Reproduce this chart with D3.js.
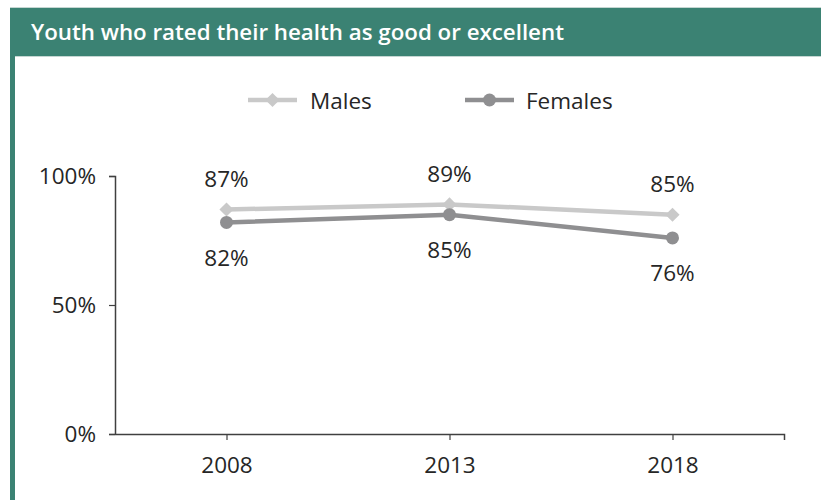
<!DOCTYPE html>
<html>
<head>
<meta charset="utf-8">
<script src="https://cdn.jsdelivr.net/npm/d3@7"></script>
<style>
html,body{margin:0;padding:0;background:#fff;}
svg{display:block;}
text{font-family:"Open Sans","Noto Sans",sans-serif;}
</style>
</head>
<body>
<svg id="chart" width="821" height="500"></svg>
<script>
const title = "Youth who rated their health as good or excellent";
const years = ["2008", "2013", "2018"];
const males = [87, 89, 85];
const females = [82, 85, 76];
const yTicks = [0, 50, 100];
const seriesNames = ["Males", "Females"];

const svg = d3.select("#chart");
const teal = "#3b8273";
const fs = 22.5;

// frame
svg.append("rect").attr("x", 10).attr("y", 7).attr("width", 811).attr("height", 1).attr("fill", "#c5d6d2");
svg.append("rect").attr("x", 10).attr("y", 8).attr("width", 811).attr("height", 48).attr("fill", teal);
svg.append("rect").attr("x", 15).attr("y", 56).attr("width", 806).attr("height", 1).attr("fill", "#c5d6d2");
svg.append("rect").attr("x", 10).attr("y", 56).attr("width", 5).attr("height", 444).attr("fill", teal);
svg.append("text").attr("x", 31).attr("y", 40)
  .attr("fill", "#fff").attr("font-size", 22.3).attr("font-weight", 600)
  .text(title);

const x = d3.scalePoint().domain(years).range([115, 784]).padding(0.5);
const y = d3.scaleLinear().domain([0, 100]).range([434, 176]);

const axisColor = "#404040";
// y axis
const yAxis = svg.append("g").attr("transform", "translate(115,0)")
  .call(d3.axisLeft(y).tickValues(yTicks).tickSize(6).tickPadding(13).tickFormat(d => d + "%"));
// x axis
const xAxis = svg.append("g").attr("transform", "translate(0,434)")
  .call(d3.axisBottom(x).tickSize(6).tickPadding(17));
[yAxis, xAxis].forEach(g => {
  g.select(".domain").attr("stroke", axisColor).attr("stroke-width", 1.5);
  g.selectAll(".tick line").attr("stroke", axisColor).attr("stroke-width", 1.2);
  g.selectAll(".tick text").attr("fill", "#262626").attr("font-size", fs)
    .attr("font-family", "'Open Sans','Noto Sans',sans-serif");
});
yAxis.select(".domain").attr("d", "M-6,176.5H0.5V434.5");
xAxis.select(".domain").attr("d", "M109,0.5H784.5V6");

const cMale = "#c9c9c9", cFemale = "#8f8f91";
const line = d3.line().x((d, i) => x(years[i])).y(d => y(d));

svg.append("path").datum(males).attr("d", line)
  .attr("fill", "none").attr("stroke", cMale).attr("stroke-width", 4.5);
svg.append("path").datum(females).attr("d", line)
  .attr("fill", "none").attr("stroke", cFemale).attr("stroke-width", 4.5);

const diamond = d3.symbol().type(d3.symbolSquare).size(100);
svg.selectAll(".mm").data(males).enter().append("path")
  .attr("d", diamond)
  .attr("transform", (d, i) => `translate(${x(years[i])},${y(d)}) rotate(45)`)
  .attr("fill", cMale);
svg.selectAll(".fm").data(females).enter().append("circle")
  .attr("cx", (d, i) => x(years[i])).attr("cy", d => y(d)).attr("r", 6.5)
  .attr("fill", cFemale);

// data labels
svg.selectAll(".ml").data(males).enter().append("text")
  .attr("x", (d, i) => x(years[i])).attr("y", d => y(d) - 31)
  .attr("text-anchor", "middle").attr("dominant-baseline", "central")
  .attr("font-size", fs).attr("fill", "#262626").text(d => d + "%");
svg.selectAll(".fl").data(females).enter().append("text")
  .attr("x", (d, i) => x(years[i])).attr("y", d => y(d) + 35)
  .attr("text-anchor", "middle").attr("dominant-baseline", "central")
  .attr("font-size", fs).attr("fill", "#262626").text(d => d + "%");

// legend
const legend = [
  {name: seriesNames[0], color: cMale, x0: 248, x1: 297, tx: 310, shape: "diamond"},
  {name: seriesNames[1], color: cFemale, x0: 465, x1: 514, tx: 526, shape: "circle"}
];
legend.forEach(l => {
  const g = svg.append("g");
  g.append("line").attr("x1", l.x0).attr("x2", l.x1).attr("y1", 100).attr("y2", 100)
    .attr("stroke", l.color).attr("stroke-width", 4.5);
  const cx = (l.x0 + l.x1) / 2;
  if (l.shape === "diamond") {
    g.append("path").attr("d", diamond).attr("transform", `translate(${cx},100) rotate(45)`).attr("fill", l.color);
  } else {
    g.append("circle").attr("cx", cx).attr("cy", 100).attr("r", 6.5).attr("fill", l.color);
  }
  g.append("text").attr("x", l.tx).attr("y", 100).attr("dominant-baseline", "central")
    .attr("font-size", fs).attr("fill", "#262626").text(l.name);
});
</script>
</body>
</html>
